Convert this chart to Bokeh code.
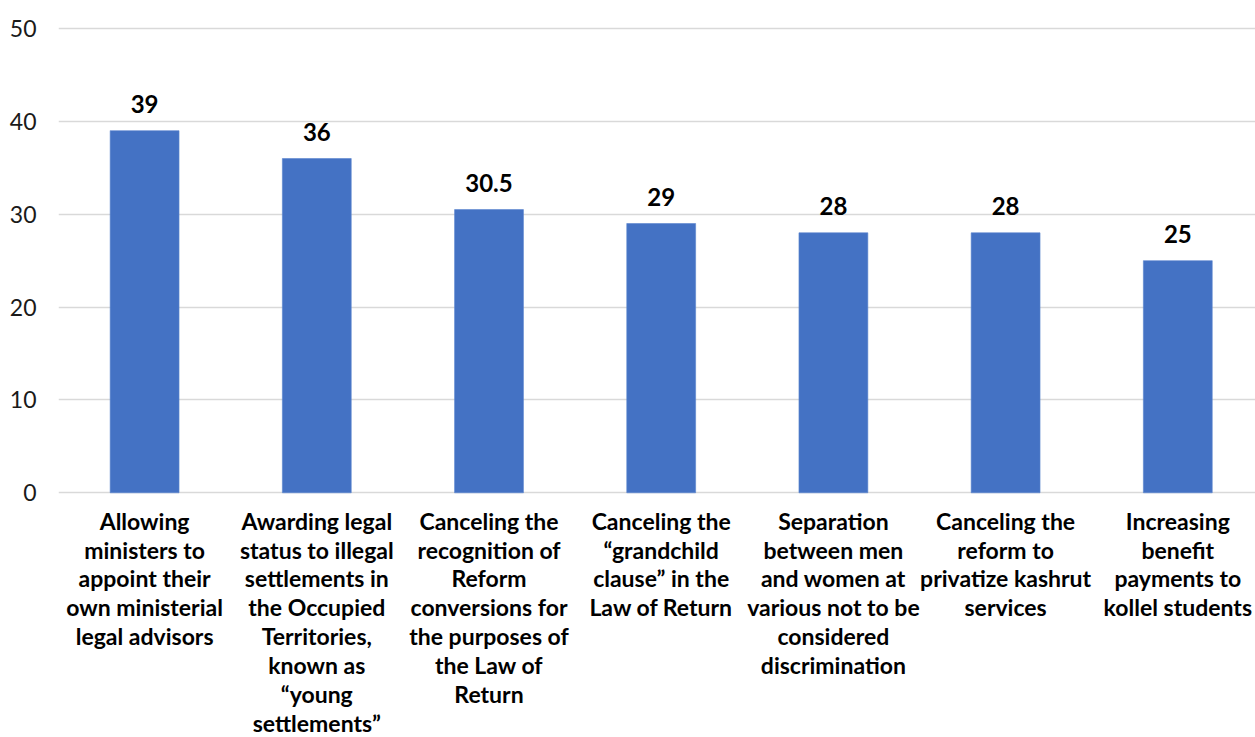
from bokeh.plotting import figure
from bokeh.models import Range1d, FixedTicker, ColumnDataSource
from bokeh.core.properties import value
from bokeh.embed import file_html
from bokeh.resources import INLINE

# Survey data: share of support per proposed policy
categories = [
    "Allowing\nministers to\nappoint their\nown ministerial\nlegal advisors",
    "Awarding legal\nstatus to illegal\nsettlements in\nthe Occupied\nTerritories,\nknown as\n\u201cyoung\nsettlements\u201d",
    "Canceling the\nrecognition of\nReform\nconversions for\nthe purposes of\nthe Law of\nReturn",
    "Canceling the\n\u201cgrandchild\nclause\u201d in the\nLaw of Return",
    "Separation\nbetween men\nand women at\nvarious not to be\nconsidered\ndiscrimination",
    "Canceling the\nreform to\nprivatize kashrut\nservices",
    "Increasing\nbenefit\npayments to\nkollel students",
]
values = [39, 36, 30.5, 29, 28, 28, 25]
value_labels = ["39", "36", "30.5", "29", "28", "28", "25"]
y_ticks = [0, 10, 20, 30, 40, 50]

W, H = 1255, 737
LEFT = 58
FONT = "Lato"

# Layout geometry (pixels)
cat_px = 172.2
frame_w = W - LEFT
zero_px = 492.3      # pixel row of value 0, from top
px_per_unit = 9.286
y_max = 50 + (zero_px - 464.3) / px_per_unit
y_min = -(H - zero_px) / px_per_unit
x_min = -0.5
x_max = x_min + frame_w / cat_px

p = figure(
    width=W, height=H,
    x_range=Range1d(x_min, x_max), y_range=Range1d(y_min, y_max),
    output_backend="svg", toolbar_location=None,
    min_border_left=LEFT, min_border_right=0, min_border_top=0, min_border_bottom=0,
)
p.outline_line_color = None
p.background_fill_color = "white"
p.border_fill_color = "white"

xs = list(range(len(values)))
src = ColumnDataSource(dict(x=xs, top=values, vlabel=value_labels, cat=categories))

p.vbar(x="x", top="top", bottom=0, width=0.4, source=src,
       fill_color="#4472C4", line_color="#5b84cf", line_width=0.6)

# Value labels above bars
src.data["vy"] = [v + 27 / px_per_unit for v in values]
p.text(x="x", y="vy", text="vlabel", source=src,
       text_font=value(FONT), text_font_style="bold", text_font_size="24px",
       text_color="#000000", text_align="center", text_baseline="alphabetic")

# Category labels under the baseline
src.data["cy"] = [-(14 / px_per_unit)] * len(values)
p.text(x="x", y="cy", text="cat", source=src,
       text_font=value(FONT), text_font_style="bold", text_font_size="23px",
       text_color="#000000", text_align="center", text_baseline="top",
       text_line_height=1.03)

# Axes and grid
p.xaxis.visible = False
p.xgrid.visible = False
yax = p.yaxis[0]
yax.ticker = FixedTicker(ticks=y_ticks)
yax.axis_line_color = None
yax.major_tick_line_color = None
yax.minor_tick_line_color = None
yax.major_tick_out = 0
yax.major_tick_in = 0
yax.major_label_standoff = 22
yax.major_label_text_font = FONT
yax.major_label_text_font_size = "23px"
yax.major_label_text_color = "#1a1a1a"
p.ygrid.ticker = FixedTicker(ticks=y_ticks)
p.ygrid.grid_line_color = "#d9d9d9"
p.ygrid.grid_line_width = 1.3

open("out.html", "w").write(file_html(p, INLINE))
